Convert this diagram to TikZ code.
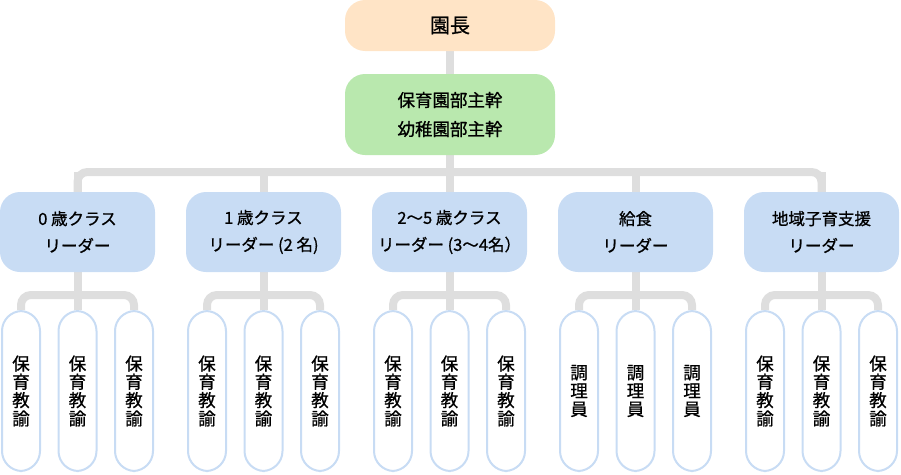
\documentclass[tikz,border=0pt]{standalone}
\usepackage{fontspec}
\setmainfont{Noto Sans CJK JP}[FakeBold=0.8]
\usetikzlibrary{backgrounds}
\definecolor{peach}{HTML}{FFE4C6}
\definecolor{mint}{HTML}{B9E8AE}
\definecolor{sky}{HTML}{C8DCF4}
\definecolor{conn}{HTML}{DEDEDE}
\tikzset{
  box/.style={rounded corners=20pt, inner sep=0pt, align=center, text=black},
  topbox/.style={box, minimum width=210pt},
  leaderbox/.style={box, fill=sky, minimum width=155pt, minimum height=80pt,
    font=\fontsize{16.5}{27}\selectfont},
  childbox/.style={box, draw=sky, line width=2pt, fill=white,
    minimum width=38pt, minimum height=160pt, font=\fontsize{17.5}{18.3}\selectfont},
  connector/.style={draw=conn, line width=8pt, rounded corners=10pt}
}
\begin{document}
\begin{tikzpicture}[x=1pt,y=-1pt]
\useasboundingbox (0,0) rectangle (901,474);
\node[topbox, fill=peach, minimum height=51pt, font=\fontsize{20}{24}\selectfont] (head) at (450,25.5) {園長};
\node[topbox, fill=mint, minimum height=81pt, font=\fontsize{17.5}{29}\selectfont] (deputy) at (450,114.5) {保育園部主幹\\幼稚園部主幹};
\coordinate (bus) at (450,172);
\foreach \i/\t/\s in {1/{0 歳クラス\\リーダー}/{保\\育\\教\\諭},
                      2/{1 歳クラス\\リーダー (2 名)}/{保\\育\\教\\諭},
                      3/{2〜5 歳クラス\\リーダー (3〜4名）}/{保\\育\\教\\諭},
                      4/{給食\\リーダー}/{調\\理\\員},
                      5/{地域子育支援\\リーダー}/{保\\育\\教\\諭}}{
  \pgfmathsetmacro{\cx}{77.5+186*(\i-1)}
  \node[leaderbox] (l\i) at (\cx,232) {\t};
  \node[childbox] (c\i a) at (\cx-56.5,391) {\s};
  \node[childbox] (c\i b) at (\cx,391) {\s};
  \node[childbox] (c\i c) at (\cx+56.5,391) {\s};
  \coordinate (s\i) at (\cx,295);
  \begin{scope}[on background layer]
    \draw[connector] (c\i a.north) |- (s\i) -| (c\i c.north);
    \draw[connector] (l\i.south) -- (c\i b.north);
    \draw[connector] (l\i.north) -- (l\i.north |- bus);
  \end{scope}
}
\begin{scope}[on background layer]
  \draw[connector] (l1.north) |- (bus) -| (l5.north);
  \draw[connector] (head.south) -- (deputy.north);
  \draw[connector] (deputy.south) -- (bus);
\end{scope}
\end{tikzpicture}
\end{document}
